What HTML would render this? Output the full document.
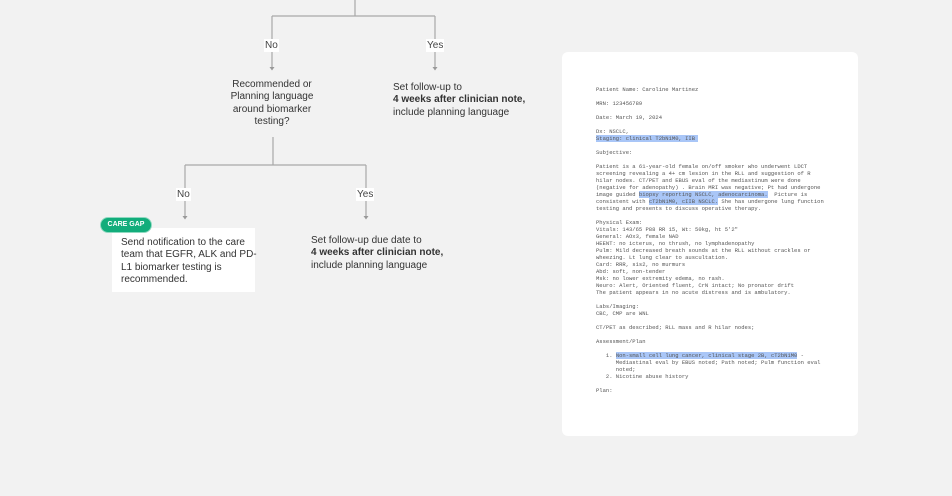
<!DOCTYPE html>
<html><head><meta charset="utf-8">
<style>
html,body{margin:0;padding:0;}
body{width:952px;height:496px;background:#f2f2f2;position:relative;overflow:hidden;font-family:"Liberation Sans",sans-serif;color:#222;}
.t{position:absolute;font-size:10px;line-height:12.4px;color:#333;white-space:nowrap;}
.lbl{position:absolute;background:#fff;font-size:10px;line-height:13px;padding:0 1px;color:#444;}
.card{position:absolute;left:562px;top:52px;width:296px;height:384px;background:#fff;border-radius:6px;}
.doc{position:absolute;left:596px;top:86px;font-family:"Liberation Mono",monospace;font-size:5.5px;line-height:7px;color:#555;white-space:pre;}
.hl{background:#a9c6f7;}
</style></head><body>
<svg width="952" height="496" style="position:absolute;left:0;top:0" >
<g stroke="#a8a8a8" stroke-width="1.2" fill="none">
<path d="M355 0V16M272 16H435M272 16V68M435 16V68"/>
<path d="M273 137V165M185 165H366M185 165V216M366 165V216"/>
</g>
<g fill="#999">
<path d="M269.5 67h5l-2.5 3.5z"/><path d="M432.5 67h5l-2.5 3.5z"/>
<path d="M182.5 216h5l-2.5 3.5z"/><path d="M363.5 216h5l-2.5 3.5z"/>
</g>
</svg>
<div class="lbl" style="left:264px;top:39px">No</div>
<div class="lbl" style="left:426px;top:39px">Yes</div>
<div class="lbl" style="left:176px;top:188px">No</div>
<div class="lbl" style="left:356px;top:188px">Yes</div>

<div class="t" style="left:212px;top:79px;width:120px;text-align:center">Recommended or<br>Planning language<br>around biomarker<br>testing?</div>
<div class="t" style="left:393px;top:82px">Set follow-up to<br><b>4 weeks after clinician note,</b><br>include planning language</div>

<div style="position:absolute;left:112px;top:228px;width:143px;height:64px;background:#fff"></div>
<div class="t" style="left:121px;top:237px">Send notification to the care<br>team that EGFR, ALK and PD-<br>L1 biomarker testing is<br>recommended.</div>
<div style="position:absolute;left:100px;top:217px;width:50px;height:14px;background:#12ad7b;border:1px solid #8fd9c0;border-radius:8px;color:#fff;font-size:7px;font-weight:bold;line-height:14px;text-align:center;">CARE GAP</div>

<div class="t" style="left:311px;top:235px">Set follow-up due date to<br><b>4 weeks after clinician note,</b><br>include planning language</div>

<div class="card"></div>
<div class="doc">Patient Name: Caroline Martinez

MRN: 123456789

Date: March 19, 2024

Dx: NSCLC,
<span class="hl">Staging: clinical T2bN1M0, IIB </span>

Subjective:

Patient is a 61-year-old female on/off smoker who underwent LDCT
screening revealing a 4+ cm lesion in the RLL and suggestion of R
hilar nodes. CT/PET and EBUS eval of the mediastinum were done
(negative for adenopathy) . Brain MRI was negative; Pt had undergone
image guided <span class="hl">biopsy reporting NSCLC, adenocarcinoma.</span>  Picture is
consistent with <span class="hl">cT2bN1M0, cIIB NSCLC.</span> She has undergone lung function
testing and presents to discuss operative therapy.

Physical Exam:
Vitals: 143/65 P88 RR 15, Wt: 50kg, ht 5'2"
General: AOx3, female NAD
HEENT: no icterus, no thrush, no lymphadenopathy
Pulm: Mild decreased breath sounds at the RLL without crackles or
wheezing. Lt lung clear to auscultation.
Card: RRR, s1s2, no murmurs
Abd: soft, non-tender
Msk: no lower extremity edema, no rash.
Neuro: Alert, Oriented fluent, CrN intact; No pronator drift
The patient appears in no acute distress and is ambulatory.

Labs/Imaging:
CBC, CMP are WNL

CT/PET as described; RLL mass and R hilar nodes;

Assessment/Plan

   1. <span class="hl">Non-small cell lung cancer, clinical stage 2B, cT2bN1M0</span> -
      Mediastinal eval by EBUS noted; Path noted; Pulm function eval
      noted;
   2. Nicotine abuse history

Plan:</div>
</body></html>
